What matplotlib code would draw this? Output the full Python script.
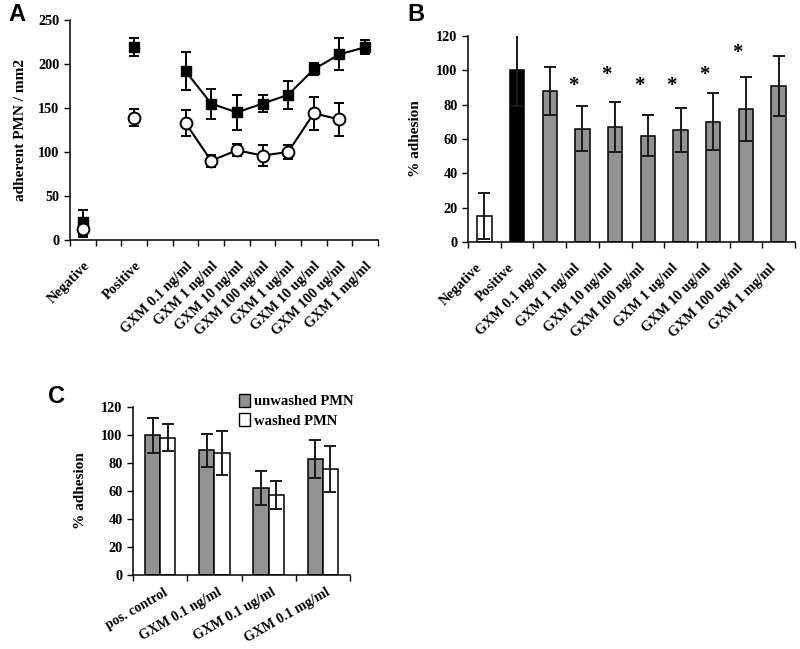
import numpy as np
import matplotlib
matplotlib.use('Agg')
import matplotlib.pyplot as plt
from matplotlib.patches import Patch

plt.rcParams['font.family'] = ['Liberation Serif', 'DejaVu Serif']
plt.rcParams['font.weight'] = 'bold'
plt.rcParams['axes.labelweight'] = 'bold'
plt.rcParams['font.size'] = 10.3

# categories shared by panels A and B
categories = ['Negative', 'Positive', 'GXM 0.1 ng/ml', 'GXM 1 ng/ml', 'GXM 10 ng/ml',
              'GXM 100 ng/ml', 'GXM 1 ug/ml', 'GXM 10 ug/ml', 'GXM 100 ug/ml', 'GXM 1 mg/ml']

# panel A: adherent PMN / mm2
a_square = [20, 219, 192, 155, 145, 155, 165, 194, 211, 219]
a_square_err = [14, 10, 22, 17, 20, 10, 16, 7, 18, 8]
a_circle = [12, 139, 133, 90, 102, 96, 100, 144, 137, np.nan]
a_circle_err = [9, 10, 15, 7, 7, 11.5, 8.5, 18.5, 18.5, np.nan]
a_slots = [0, 2, 4, 5, 6, 7, 8, 9, 10, 11]

# panel B: % adhesion
b_values = [15, 100, 88, 66, 67, 62, 65, 70, 77.5, 91]
b_err = [13.5, 20.5, 14, 13, 14.5, 12, 12.8, 16.6, 18.5, 17.6]
b_star_y = [np.nan, np.nan, np.nan, 91, 97, 91, 91, 97, 110, np.nan]

# panel C: washed vs unwashed PMN
c_categories = ['pos. control', 'GXM 0.1 ng/ml', 'GXM 0.1 ug/ml', 'GXM 0.1 mg/ml']
c_unwashed = [100, 89, 62, 83]
c_unwashed_err = [12.5, 12, 12.3, 13.6]
c_washed = [98, 87, 57, 76]
c_washed_err = [9.6, 15.8, 10.2, 16.5]

GRAY = '#929292'
W, H = 800, 649
fig = plt.figure(figsize=(W / 100, H / 100), dpi=100)


def px_axes(x0, y0, x1, y1):
    return fig.add_axes([x0 / W, 1 - y1 / H, (x1 - x0) / W, (y1 - y0) / H])


def style(ax):
    for s in ['top', 'right']:
        ax.spines[s].set_visible(False)
    for s in ['left', 'bottom']:
        ax.spines[s].set_linewidth(1.1)
    ax.tick_params(which='major', direction='out', length=4, width=1.0)


def rotate_minor(ax, angle):
    for lab in ax.get_xticklabels(minor=True):
        lab.set_rotation(angle)
        lab.set_ha('right')
        lab.set_va('top')
        lab.set_rotation_mode('anchor')


# ---------------- A ----------------
axA = px_axes(70, 20, 378, 240)
style(axA)
xs = np.array(a_slots)
sq = np.array(a_square, dtype=float)
ci = np.array(a_circle, dtype=float)
line_idx = slice(2, None)
axA.plot(xs[line_idx], sq[line_idx], color='black', lw=1.5, zorder=2)
axA.plot(xs[line_idx], ci[line_idx], color='black', lw=1.5, zorder=2)
axA.errorbar(xs, sq, yerr=a_square_err, fmt='s', color='black', ms=7,
             ecolor='black', elinewidth=1.4, capsize=3.5, capthick=1.4, zorder=3)
axA.errorbar(xs, ci, yerr=a_circle_err, fmt='o', mfc='white', mec='black', mew=1.4,
             ms=8.5, ecolor='black', elinewidth=1.4, capsize=3.5, capthick=1.4, zorder=4)
axA.set_xlim(-0.5, 11.5)
axA.set_ylim(0, 250)
axA.set_yticks(range(0, 251, 50))
axA.set_xticks(np.arange(-0.5, 12, 1))
axA.set_xticklabels([])
axA.set_xticks(xs, labels=categories, minor=True)
axA.tick_params(axis='x', which='minor', length=0, pad=14)
rotate_minor(axA, 45)
axA.set_ylabel('adherent PMN / mm2', fontsize=11, labelpad=8)

# ---------------- B ----------------
axB = px_axes(468, 36, 795, 242)
style(axB)
xb = np.arange(len(categories))
colors = ['white', 'black'] + [GRAY] * (len(categories) - 2)
axB.bar(xb, b_values, width=0.44, color=colors, edgecolor='black', linewidth=1.1, zorder=2)
axB.errorbar(xb, b_values, yerr=b_err, fmt='none', ecolor='#1a1a1a', elinewidth=1.4,
             capsize=4, capthick=1.4, zorder=3)
for x, y in zip(xb, b_star_y):
    if not np.isnan(y):
        axB.text(x - 0.27, y, '*', ha='center', va='center', fontsize=15)
axB.set_xlim(-0.5, len(categories) - 0.5)
axB.set_ylim(0, 120)
axB.set_yticks(range(0, 121, 20))
axB.set_xticks(np.arange(-0.5, len(categories), 1))
axB.set_xticklabels([])
axB.set_xticks(xb - 0.28, labels=categories, minor=True)
axB.tick_params(axis='x', which='minor', length=0, pad=14)
rotate_minor(axB, 45)
axB.set_ylabel('% adhesion', fontsize=11, labelpad=10)

# ---------------- C ----------------
axC = px_axes(133, 407, 350, 575)
style(axC)
xc = np.arange(len(c_categories))
bw = 0.28
axC.bar(xc - bw / 2, c_unwashed, width=bw, color=GRAY, edgecolor='black', linewidth=1.1,
        zorder=2)
axC.bar(xc + bw / 2, c_washed, width=bw, color='white', edgecolor='black', linewidth=1.1,
        zorder=2)
axC.errorbar(xc - bw / 2, c_unwashed, yerr=c_unwashed_err, fmt='none', ecolor='#1a1a1a',
             elinewidth=1.4, capsize=4, capthick=1.4, zorder=3)
axC.errorbar(xc + bw / 2, c_washed, yerr=c_washed_err, fmt='none', ecolor='#1a1a1a',
             elinewidth=1.4, capsize=4, capthick=1.4, zorder=3)
axC.set_xlim(-0.5, len(c_categories) - 0.5)
axC.set_ylim(0, 120)
axC.set_yticks(range(0, 121, 20))
axC.set_xticks(np.arange(-0.5, len(c_categories), 1))
axC.set_xticklabels([])
axC.set_xticks(xc + 0.06, labels=c_categories, minor=True)
axC.tick_params(axis='x', which='minor', length=0, pad=8, labelsize=10)
rotate_minor(axC, 30)
axC.set_ylabel('% adhesion', fontsize=11, labelpad=10)
handles = [Patch(facecolor=GRAY, edgecolor='black'), Patch(facecolor='white', edgecolor='black')]
axC.legend(handles, ['unwashed PMN', 'washed PMN'], loc='upper left',
           bbox_to_anchor=(0.49, 1.08), frameon=False, handlelength=0.7,
           handleheight=1.0, handletextpad=0.3, labelspacing=0.35, borderpad=0,
           borderaxespad=0, fontsize=10.5)

# panel letters
for letter, x, y in [('A', 8, 3), ('B', 407, 3), ('C', 48, 385)]:
    fig.text(x / W, 1 - y / H, letter, ha='left', va='top', fontsize=17,
             fontweight='bold', family='Liberation Sans')

fig.savefig('out.png', dpi=100)
